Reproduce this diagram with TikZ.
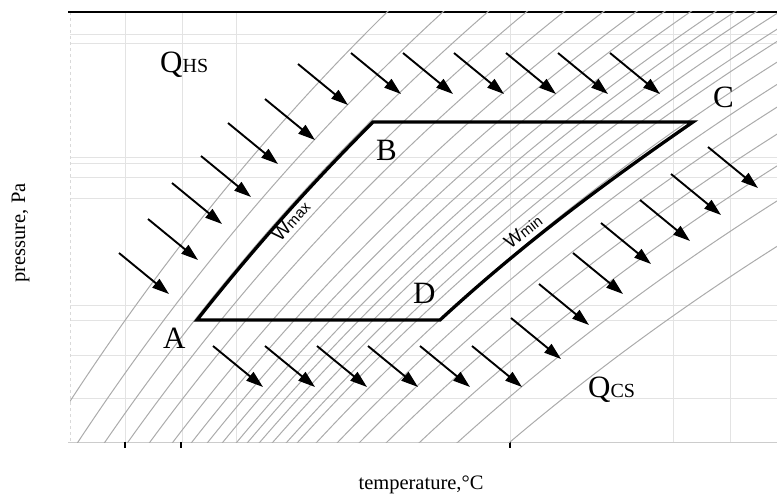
\documentclass[tikz,border=0pt]{standalone}
\usepackage{fontspec}
\setmainfont{Liberation Serif}
\newfontfamily\wsans{Liberation Sans}
\usepackage{tikz}
\usetikzlibrary{positioning,arrows.meta,calc}

\begin{document}
\begin{tikzpicture}[x=1pt, y=-1pt, >={Triangle[length=17pt,width=11pt]},
  gl/.style={gray!22, line width=0.8pt},
  iso/.style={gray!66, line width=1pt},
  cyc/.style={line width=3.3pt, line join=miter},
  hq/.style={->, line width=1.9pt},
  pt/.style={font=\fontsize{31}{31}\selectfont, inner sep=0pt, anchor=base west},
  ax/.style={font=\fontsize{20.5}{20.5}\selectfont, inner sep=0pt, anchor=base},
  wl/.style={font=\wsans\fontsize{19}{19}\selectfont, inner sep=0pt}]
  \useasboundingbox (0,0) rectangle (777,495);
  % grid of the chart
  \foreach \gx in {125,182,236,510,673,730} \draw[gl] (\gx,12) -- (\gx,442);
  \foreach \gy in {34,43,157,163,177,198,305,320,355,398} \draw[gl] (70,\gy) -- (777,\gy);
  \draw[gray!30, dashed] (70,12) -- (70,442);
  \draw[gray!40, line width=1pt] (68,442) -- (777,442);
  \draw[line width=1.5pt] (68,12) -- (777,12);
  \foreach \tx in {125,181,510} \draw[line width=1.2pt] (\tx,442) -- (\tx,448);
  % isosteres, one per foot on the temperature axis
  \begin{scope}
    \clip (70,12) rectangle (777,442);
    \foreach \xb in {44,78,105,128,150,173,192,208,223,237,248,260,273,287,298,317,338,360,387,420,458,510}
      \draw[iso] plot[domain=0:800, samples=60, smooth]
        (\x, {442+100*(248.5/((\x+1203)/100)-248.5/((\xb+1203)/100))});
  \end{scope}
  % the cycle A-B-C-D
  \coordinate (A) at (197,320);
  \coordinate (B) at (373,122);
  \coordinate (C) at (693,122);
  \coordinate (D) at (440,320);
  \draw[cyc] (A) .. controls +(58.7,-74.5) and +(-58.7,58.7) .. (B) -- (C)
    .. controls +(-84.3,58.2) and +(84.3,-77.6) .. (D) -- cycle;
  % heat flows
  \foreach \ax/\ay in {119/253,148/219,172/183,201/156,228/123,265/99,298/64,
      351/53,403/53,454/53,506/53,558/53,610/53}
    \draw[hq] (\ax,\ay) -- ++(50,41);
  \foreach \ax/\ay in {213/346,265/346,317/346,368/346,420/346,472/346,
      511/318,539/284,573/253,601/223,640/200,671/174,708/147}
    \draw[hq] (\ax,\ay) -- ++(50,41);
  % labels
  \node[pt] (la) at (163,348) {A};
  \node[pt] (lb) at (376,160) {B};
  \node[pt] (lc) at (713,107) {C};
  \node[pt] (ld) at (413,303) {D};
  \node[pt] (qhs) at (160,73) {Q{\fontsize{20}{20}\selectfont HS}};
  \node[pt] (qcs) at (588,397) {Q{\fontsize{20}{20}\selectfont CS}};
  \node[wl, rotate=48] (wmax) at (291,221) {W{\fontsize{15}{15}\selectfont max}};
  \node[wl, rotate=38] (wmin) at (523,231) {W{\fontsize{15}{15}\selectfont min}};
  \node[ax] (tl) at (421,489) {temperature,°C};
  \node[ax, rotate=90] (pl) at (25,233) {pressure, Pa};
\end{tikzpicture}
\end{document}
